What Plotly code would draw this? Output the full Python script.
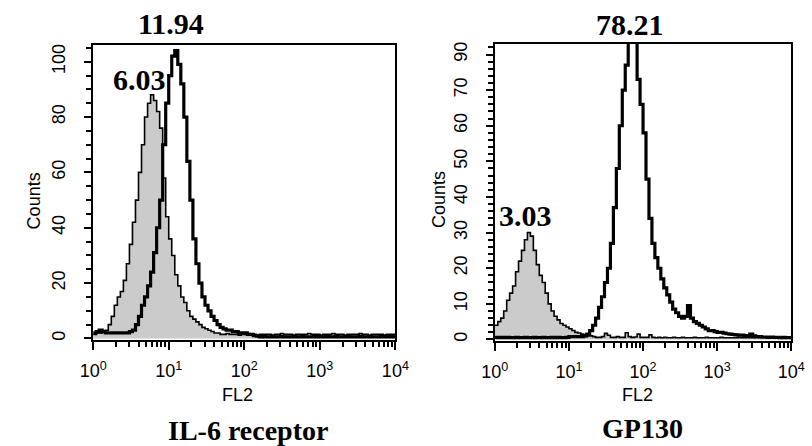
import numpy as np
import plotly.graph_objects as go

W, H = 812, 446

# FL2 channel bins: left edges in decades (log10), 0.04 decade wide, 10^0 .. 10^4
bin_edges_log = np.round(np.arange(0, 4.0001, 0.04), 2)

# IL-6 receptor panel: isotype control (grey filled) and IL-6R staining (black)
il6_isotype = [
    1.5, 2, 2, 2.5, 3, 5, 8, 12, 15, 17,
    21, 27, 34, 42, 50, 60, 70, 80, 85, 88,
    86, 82, 76, 58, 44, 36, 30, 23, 19, 15,
    13, 10, 8, 7, 6, 5, 4, 3.5, 3, 2.5,
    2, 2, 1.5, 1.5, 1.8, 1.5, 1.5, 1.5, 1.2, 1.5,
    1.5, 1.8, 1.5, 1.5, 1.2, 1.5, 1.5, 1.5, 1.5, 1.2,
    1.5, 1.5, 1.8, 1.5, 1.5, 1.5, 1.2, 1.5, 1.5, 1.5,
    1.5, 1.8, 1.5, 1.5, 1.5, 1.2, 1.5, 1.5, 1.5, 1.8,
    1.5, 1.5, 1.5, 1.2, 1.5, 1.5, 1.5, 1.5, 1.8, 1.5,
    1.5, 1.2, 1.5, 1.5, 1.5, 1.5, 1.2, 1.5, 1.5, 1.5,
]
il6_receptor = [
    2, 2.5, 3, 2.5, 2, 2, 2, 2, 2, 2,
    2, 2, 2.5, 3, 5, 8, 12, 15, 19, 24,
    31, 40, 50, 70, 85, 95, 102, 104, 99, 92,
    80, 64, 50, 36, 27, 20, 15, 12, 10, 8,
    6.5, 5, 4, 3.5, 3, 3, 2.5, 2.5, 2, 2,
    2, 1.5, 1.5, 1, 0.8, 0.6, 0.7, 0.6, 0.6, 0.8,
    0.6, 0.6, 0.7, 0.6, 0.6, 0.6, 0.8, 0.6, 0.6, 0.7,
    0.6, 0.6, 0.6, 0.8, 0.6, 0.6, 0.6, 0.7, 0.6, 0.6,
    0.8, 0.6, 0.6, 0.6, 0.7, 0.6, 0.6, 0.6, 0.8, 0.6,
    0.6, 0.7, 0.6, 0.6, 0.6, 0.8, 0.6, 0.6, 0.7, 0.6,
]

# GP130 panel: isotype control (grey filled) and GP130 staining (black)
gp130_isotype = [
    4, 5, 6, 8, 11, 13, 15, 19, 22, 25,
    28, 30, 29, 25, 21, 18, 16, 13, 10, 8,
    6.5, 5.5, 4.5, 4, 3.5, 3, 2.5, 2, 1.8, 1.5,
    1.2, 1, 1, 0.8, 0.6, 0.6, 0.8, 1.7, 1.2, 0.6,
    0.6, 0.8, 0.6, 0.6, 1.9, 0.8, 0.6, 0.7, 1.5, 0.6,
    0.6, 0.6, 1.3, 0.6, 0.5, 0.6, 0.5, 0.6, 0.5, 0.5,
    0.6, 0.5, 0.5, 0.6, 0.5, 0.5, 0.5, 0.6, 0.5, 0.5,
    0.5, 0.6, 0.5, 0.5, 0.5, 0.5, 0.6, 0.5, 0.5, 0.5,
    0.5, 0.5, 0.6, 0.5, 0.5, 0.5, 0.5, 0.5, 0.6, 0.5,
    0.5, 0.5, 0.5, 0.5, 0.5, 0.6, 0.5, 0.5, 0.5, 0.5,
]
gp130_stained = [
    0.6, 0.5, 0.6, 0.5, 0.6, 0.5, 0.5, 0.6, 0.5, 0.5,
    0.6, 0.5, 0.5, 0.6, 0.5, 0.5, 0.6, 0.5, 0.5, 0.6,
    0.5, 0.6, 0.5, 0.5, 0.6, 0.8, 0.8, 0.8, 0.8, 0.8,
    1, 1.5, 2.5, 4, 6, 9, 12, 16, 20, 27,
    37, 48, 60, 70, 77, 86, 88, 86, 73, 66,
    58, 45, 34, 27, 23, 20, 17, 14.5, 12.5, 10.5,
    8.5, 7.5, 6.5, 6, 6.5, 9.5, 6, 5, 4.5, 4,
    3.5, 3, 2.5, 2.5, 2.2, 2, 2, 1.8, 1.6, 1.5,
    1.4, 1.3, 1.2, 1.2, 1.1, 1, 1.5, 1, 0.8, 0.8,
    0.7, 0.7, 0.6, 0.7, 0.6, 0.6, 0.5, 0.6, 0.5, 0.5,
]

panel_titles = ["IL-6 receptor", "GP130"]
peak_labels_il6 = ["11.94", "6.03"]
peak_labels_gp130 = ["78.21", "3.03"]

decade_vals = [1, 10, 100, 1000, 10000]
decade_text = ["10<sup>0</sup>", "10<sup>1</sup>", "10<sup>2</sup>", "10<sup>3</sup>", "10<sup>4</sup>"]
minor_x_vals = [m * 10 ** k for k in range(4) for m in range(2, 10)]

il6_yticks = [0, 20, 40, 60, 80, 100]
gp130_yticks = [0, 10, 20, 30, 40, 50, 60, 70, 80]
gp130_yticktext = ["0", "10", "20", "30", "40", "50", "60", "70", "90"]

x_steps = 10 ** bin_edges_log

SANS = "Liberation Sans, Arial, sans-serif"
SERIF = "Liberation Serif, Times New Roman, serif"
GREY_FILL = "#cbcbcb"
TICK_FONT = dict(family=SANS, size=18, color="black")

IL6_YRANGE = [-0.72, 106.1]
GP130_YRANGE = [-0.56, 83.0]


def hist_y(counts):
    # repeat the last count so the final bin gets its full width in an hv step line
    return list(counts) + [counts[-1]]


def px(x, y):
    return x / W, 1 - y / H


fig = go.Figure()

for xa, ya, iso, stain in [("x", "y", il6_isotype, il6_receptor),
                           ("x2", "y2", gp130_isotype, gp130_stained)]:
    fig.add_trace(go.Scatter(
        x=x_steps, y=hist_y(iso), xaxis=xa, yaxis=ya,
        mode="lines", line=dict(color="black", width=1.6, shape="hv"),
        fill="tozeroy", fillcolor=GREY_FILL, showlegend=False, hoverinfo="skip"))
    fig.add_trace(go.Scatter(
        x=x_steps, y=hist_y(stain), xaxis=xa, yaxis=ya,
        mode="lines", line=dict(color="black", width=3.2, shape="hv"),
        showlegend=False, hoverinfo="skip"))


def xaxis_cfg(x0, x1, anchor):
    return dict(
        type="log", range=[0, 4], domain=[x0 / W, x1 / W], anchor=anchor,
        showgrid=False, zeroline=False,
        showline=True, linecolor="black", linewidth=2, mirror=True,
        ticks="outside", ticklen=8, tickwidth=2, tickcolor="black",
        tickmode="array", tickvals=decade_vals, ticktext=decade_text,
        tickfont=TICK_FONT, ticklabelstandoff=5,
        minor=dict(tickmode="array", tickvals=minor_x_vals, ticks="outside",
                   ticklen=5, tickwidth=2, tickcolor="black", showgrid=False),
    )


def yaxis_cfg(y_top, y_bot, rng, tickvals, ticktext, minor_step, anchor):
    return dict(
        range=rng, domain=[1 - y_bot / H, 1 - y_top / H], anchor=anchor,
        showgrid=False, zeroline=False,
        showline=True, linecolor="black", linewidth=2, mirror=True,
        ticks="outside", ticklen=7, tickwidth=2, tickcolor="black",
        tickmode="array", tickvals=tickvals, ticktext=ticktext, tickangle=-90,
        tickfont=TICK_FONT, ticklabelstandoff=12,
        minor=dict(tickmode="linear", tick0=0, dtick=minor_step, ticks="outside",
                   ticklen=5, tickwidth=2, tickcolor="black", showgrid=False),
    )


fig.update_layout(
    width=W, height=H,
    margin=dict(l=0, r=0, t=0, b=0),
    paper_bgcolor="white", plot_bgcolor="white",
    xaxis=xaxis_cfg(82, 395, "y"),
    xaxis2=xaxis_cfg(498, 805, "y2"),
    yaxis=yaxis_cfg(43, 340, IL6_YRANGE, il6_yticks,
                    [str(v) for v in il6_yticks], 5, "x"),
    yaxis2=yaxis_cfg(42, 341, GP130_YRANGE, gp130_yticks, gp130_yticktext, 2, "x2"),
)

annotations = []


def add_text(text, x, y, font, size, angle=0):
    ax, ay = px(x, y)
    annotations.append(dict(
        text=text, x=ax, y=ay, xref="paper", yref="paper",
        xanchor="center", yanchor="middle", showarrow=False, textangle=angle,
        font=dict(family=font, size=size, color="black")))


# axis titles
add_text("Counts", 21, 200, SANS, 18, -90)
add_text("Counts", 440, 198, SANS, 18, -90)
add_text("FL2", 231, 395, SANS, 18)
add_text("FL2", 646, 395, SANS, 18)

# peak values above each histogram
add_text("<b>" + peak_labels_il6[0] + "</b>", 163, 22, SERIF, 30)
add_text("<b>" + peak_labels_il6[1] + "</b>", 130, 78, SERIF, 30)
add_text("<b>" + peak_labels_gp130[0] + "</b>", 638, 23, SERIF, 30)
add_text("<b>" + peak_labels_gp130[1] + "</b>", 530, 214, SERIF, 30)

# panel captions
add_text("<b>" + panel_titles[0] + "</b>", 242, 430, SERIF, 28)
add_text("<b>" + panel_titles[1] + "</b>", 651, 428, SERIF, 28)

fig.update_layout(annotations=annotations)

fig.write_html("out.html")
